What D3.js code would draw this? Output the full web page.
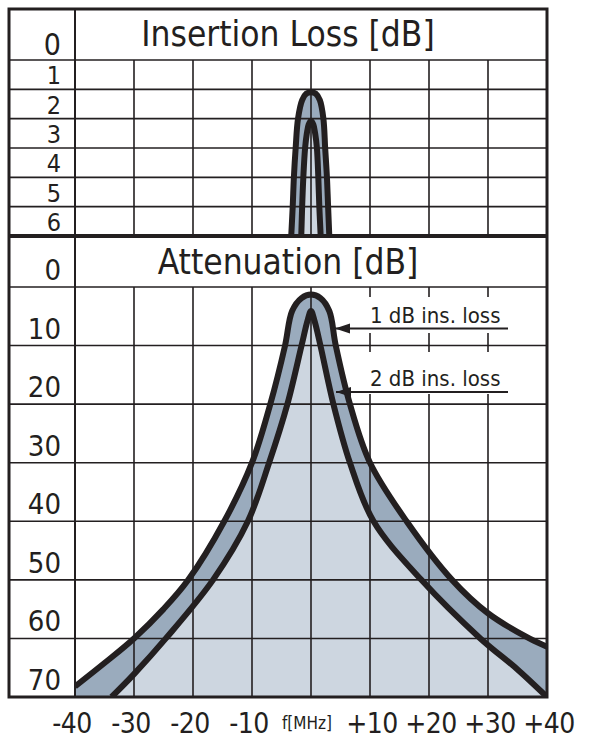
<!DOCTYPE html>
<html>
<head>
<meta charset="utf-8">
<script src="https://cdn.jsdelivr.net/npm/d3@7"></script>
<style>
  body { margin: 0; background: #fff; }
  svg { display: block; }
  text { font-family: "DejaVu Sans Condensed", "DejaVu Sans", sans-serif; font-stretch: condensed; fill: #231f20; }
</style>
</head>
<body>
<svg id="chart" width="600" height="747"></svg>
<script>
// insertion loss panel, frequency offset [MHz] -> loss [dB]
let il_outer_f = [-3.45, -3.35, -3.1, -2.9, -2.6, -2.2, -1.5, -0.8, 0, 0.8, 1.5, 2.1, 2.4, 2.7, 2.9, 3.1, 3.2];
let il_outer_db = [6.5, 6, 5, 4, 3, 2, 1.37, 1.15, 1.1, 1.15, 1.37, 2, 3, 4, 5, 6, 6.5];
let il_inner_f = [-1.75, -1.65, -1.5, -1.3, -1.0, -0.7, -0.4, 0, 0.4, 0.7, 1.0, 1.24, 1.41, 1.64, 1.72];
let il_inner_db = [6.5, 6, 5, 4, 3, 2.5, 2.2, 2.07, 2.2, 2.5, 3, 4, 5, 6, 6.5];

// attenuation panel
let att_outer_f = [-40, -35, -30, -25, -20.8, -14.7, -10, -6.9, -4.4, -3.2, -1.6, 0, 1.6, 3.1, 4.2, 6.6, 10, 16.2, 23.9, 30, 37, 40];
let att_outer_db = [68.2, 64.2, 60, 55, 50, 40, 30, 20, 10, 4.1, 1.9, 1.3, 1.9, 4.1, 10, 20, 30, 40, 50, 55.7, 60, 61.4];
let att_inner_f = [-33.8, -30, -24.6, -16.6, -10.7, -7.1, -4.0, -1.6, -0.6, 0, 0.6, 1.6, 3.8, 6.6, 10.6, 18.7, 28.7, 35, 40];
let att_inner_db = [70, 66.1, 60, 50, 40, 30, 20, 10, 5.8, 4.1, 5.8, 10, 20, 30, 40, 50, 60, 65.3, 70];

let il_ticks = [0, 1, 2, 3, 4, 5, 6];
let att_ticks = [0, 10, 20, 30, 40, 50, 60, 70];
let grid_f = [-30, -20, -10, 0, 10, 20, 30];
let freq_ticks = [-40, -30, -20, -10, 10, 20, 30, 40];
let freq_labels = ['-40', '-30', '-20', '-10', '+10', '+20', '+30', '+40'];
let notes = ['1 dB ins. loss', '2 dB ins. loss'];

let ink = '#231f20',
    band_color = '#9aabbd',
    pass_color = '#cdd6e0';

let frame = {left: 9, right: 547, top: 9, bottom: 697};
let plot_left = 75;
let il_top = 60, il_bottom = 236, att_top = 287;

let x = d3.scaleLinear().domain([-40, 40]).range([plot_left, frame.right]);
let y_il = d3.scaleLinear().domain([0, 6]).range([il_top, il_bottom]);
let y_att = d3.scaleLinear().domain([0, 70]).range([att_top, frame.bottom]);

let svg = d3.select('#chart');
let defs = svg.append('defs');

defs.append('clipPath').attr('id', 'clip-il')
  .append('rect')
  .attr('x', plot_left).attr('y', il_top)
  .attr('width', frame.right - plot_left).attr('height', il_bottom - il_top);
defs.append('clipPath').attr('id', 'clip-att')
  .append('rect')
  .attr('x', plot_left).attr('y', att_top)
  .attr('width', frame.right - plot_left).attr('height', frame.bottom - att_top);

defs.append('marker')
  .attr('id', 'arrow')
  .attr('markerUnits', 'userSpaceOnUse')
  .attr('viewBox', '0 -6 16 12')
  .attr('refX', 15).attr('refY', 0)
  .attr('markerWidth', 16).attr('markerHeight', 12)
  .attr('orient', 'auto')
  .append('path')
  .attr('d', 'M0,-5L15,0L0,5Z')
  .attr('fill', ink);

let zip = (fs, dbs) => fs.map((f, i) => ({f: f, db: dbs[i]}));
let smooth = d3.curveCatmullRom.alpha(0.5);

let curves = [
  {id: 'il', y: y_il, floor: 6.5, outer: zip(il_outer_f, il_outer_db), inner: zip(il_inner_f, il_inner_db)},
  {id: 'att', y: y_att, floor: 70, outer: zip(att_outer_f, att_outer_db), inner: zip(att_inner_f, att_inner_db)}
];

// fills first, grid goes over them
curves.forEach(c => {
  let area = d3.area()
    .x(d => x(d.f))
    .y0(c.y(c.floor))
    .y1(d => c.y(d.db))
    .curve(smooth);
  let g = svg.append('g').attr('clip-path', `url(#clip-${c.id})`);
  g.append('path').attr('d', area(c.outer)).attr('fill', band_color);
  g.append('path').attr('d', area(c.inner)).attr('fill', pass_color);
});

// grid
let grid = svg.append('g')
  .attr('stroke', ink)
  .attr('stroke-width', 1.6);

grid.selectAll('.il-row')
  .data(il_ticks.slice(0, -1))
  .enter().append('line')
  .attr('class', 'il-row')
  .attr('x1', frame.left).attr('x2', frame.right)
  .attr('y1', d => y_il(d)).attr('y2', d => y_il(d));

grid.selectAll('.att-row')
  .data(att_ticks.slice(0, -1))
  .enter().append('line')
  .attr('class', 'att-row')
  .attr('x1', frame.left).attr('x2', frame.right)
  .attr('y1', d => y_att(d)).attr('y2', d => y_att(d));

grid.selectAll('.il-col')
  .data(grid_f)
  .enter().append('line')
  .attr('class', 'il-col')
  .attr('x1', d => x(d)).attr('x2', d => x(d))
  .attr('y1', y_il(0)).attr('y2', y_il(6));

grid.selectAll('.att-col')
  .data(grid_f)
  .enter().append('line')
  .attr('class', 'att-col')
  .attr('x1', d => x(d)).attr('x2', d => x(d))
  .attr('y1', y_att(0)).attr('y2', y_att(70));

grid.append('line')
  .attr('x1', plot_left).attr('x2', plot_left)
  .attr('y1', frame.top).attr('y2', frame.bottom)
  .attr('stroke-width', 2);

// curves
curves.forEach(c => {
  let line = d3.line()
    .x(d => x(d.f))
    .y(d => c.y(d.db))
    .curve(smooth);
  let g = svg.append('g').attr('clip-path', `url(#clip-${c.id})`)
    .attr('fill', 'none')
    .attr('stroke', ink)
    .attr('stroke-width', 6)
    .attr('stroke-linejoin', 'round');
  g.append('path').attr('d', line(c.outer));
  g.append('path').attr('d', line(c.inner));
});

// frame
svg.append('rect')
  .attr('x', frame.left).attr('y', frame.top)
  .attr('width', frame.right - frame.left)
  .attr('height', frame.bottom - frame.top)
  .attr('fill', 'none')
  .attr('stroke', ink)
  .attr('stroke-width', 3);

svg.append('line')
  .attr('x1', frame.left).attr('x2', frame.right)
  .attr('y1', il_bottom).attr('y2', il_bottom)
  .attr('stroke', ink)
  .attr('stroke-width', 4);

// titles
svg.append('text')
  .attr('x', 288).attr('y', 46)
  .attr('text-anchor', 'middle')
  .style('font-size', '35px')
  .text('Insertion Loss [dB]');

svg.append('text')
  .attr('x', 288).attr('y', 274)
  .attr('text-anchor', 'middle')
  .style('font-size', '35px')
  .text('Attenuation [dB]');

// row labels
svg.selectAll('.il-label')
  .data(il_ticks)
  .enter().append('text')
  .attr('class', 'il-label')
  .attr('x', 61)
  .attr('y', d => y_il(d) - 5)
  .attr('text-anchor', 'end')
  .style('font-size', d => d === 0 ? '30px' : '25px')
  .text(d => d);

svg.selectAll('.att-label')
  .data(att_ticks)
  .enter().append('text')
  .attr('class', 'att-label')
  .attr('x', 61)
  .attr('y', d => y_att(d) - 7)
  .attr('text-anchor', 'end')
  .style('font-size', '29px')
  .text(d => d);

// frequency axis
svg.selectAll('.f-label')
  .data(freq_ticks)
  .enter().append('text')
  .attr('class', 'f-label')
  .attr('x', d => x(d) + (d < 0 ? -3 : 2))
  .attr('y', 733)
  .attr('text-anchor', 'middle')
  .style('font-size', '28px')
  .style('letter-spacing', '-0.5px')
  .text((d, i) => freq_labels[i]);

svg.append('text')
  .attr('x', 307).attr('y', 729)
  .attr('text-anchor', 'middle')
  .style('font-size', '17px')
  .text('f[MHz]');

// annotations
let note_pos = [
  {text_y: 322.5, box_y: 297, box_h: 36, arrow_y: 328.5, tip: 335},
  {text_y: 386, box_y: 352, box_h: 42, arrow_y: 392, tip: 336}
];

let note = svg.selectAll('.note')
  .data(notes)
  .enter().append('g')
  .attr('class', 'note');

note.append('rect')
  .attr('x', 365).attr('width', 147)
  .attr('y', (d, i) => note_pos[i].box_y)
  .attr('height', (d, i) => note_pos[i].box_h)
  .attr('fill', '#fff');

note.append('text')
  .attr('x', 370)
  .attr('y', (d, i) => note_pos[i].text_y)
  .style('font-size', '22px')
  .text(d => d);

note.append('line')
  .attr('x1', 508)
  .attr('x2', (d, i) => note_pos[i].tip)
  .attr('y1', (d, i) => note_pos[i].arrow_y)
  .attr('y2', (d, i) => note_pos[i].arrow_y)
  .attr('stroke', ink)
  .attr('stroke-width', 2)
  .attr('marker-end', 'url(#arrow)');
</script>
</body>
</html>
